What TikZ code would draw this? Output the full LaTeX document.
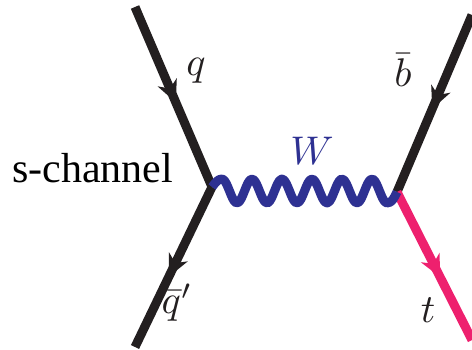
\documentclass[tikz,border=0pt]{standalone}
\usepackage{graphicx}
\usepackage{fontspec}
\setmainfont{Liberation Serif}
\usetikzlibrary{arrows.meta,decorations.markings}
\definecolor{fermion}{RGB}{35,31,32}
\definecolor{wboson}{RGB}{46,49,146}
\definecolor{topq}{RGB}{238,32,110}
\newcommand{\bigmath}[1]{\scalebox{4}{$#1$}}
\tikzset{
  x=1pt,y=-1pt,
  fermionline/.style={line width=9pt,line cap=butt,draw=#1},
  midarrow/.style={postaction={decorate,decoration={markings,
     mark=at position #1 with {\arrow[line width=0pt]{Stealth[length=22pt,width=21pt,inset=7pt]}}}}},
  lab/.style={inner sep=0pt,text=fermion},
}
\begin{document}
\begin{tikzpicture}
\useasboundingbox (0,0) rectangle (472,350);
\coordinate (q1) at (135,7);
\coordinate (q2) at (135,347);
\coordinate (vl) at (212,187);
\coordinate (vr) at (397,192);
\coordinate (b) at (472,15);
\coordinate (t) at (472,340);
\draw[fermionline=fermion,midarrow=0.53,fermion] (q1) -- (vl);
\draw[fermionline=fermion,midarrow=0.56,fermion] (vl) -- (q2);
\draw[fermionline=fermion,midarrow=0.53,fermion] (b) -- (vr);
\draw[fermionline=topq,midarrow=0.575,topq] (vr) -- (t);
\draw[line width=9pt,wboson,line join=round]
  (vl) .. controls (216,182) and (218,179) .. (222,179)
  -- plot[smooth,samples=70,domain=222:387] (\x,{191-12*cos(12*(\x-222))})
  .. controls (392,203) and (394,198) .. (vr);
\node[lab,anchor=base west,text=black,font=\fontsize{42}{46}\selectfont] (schan) at (12,183) {s-channel};
\node[lab,anchor=base] (lq) at (196,76) {\bigmath{q}};
\node[lab,anchor=base] (lqp) at (177,314) {\bigmath{\bar q'}};
\node[lab,anchor=base] (lb) at (403,87) {\bigmath{\bar b}};
\node[lab,anchor=base] (lt) at (428,323) {\bigmath{t}};
\node[lab,anchor=base,text=wboson] (lw) at (312,165) {\bigmath{W}};
\end{tikzpicture}
\end{document}
